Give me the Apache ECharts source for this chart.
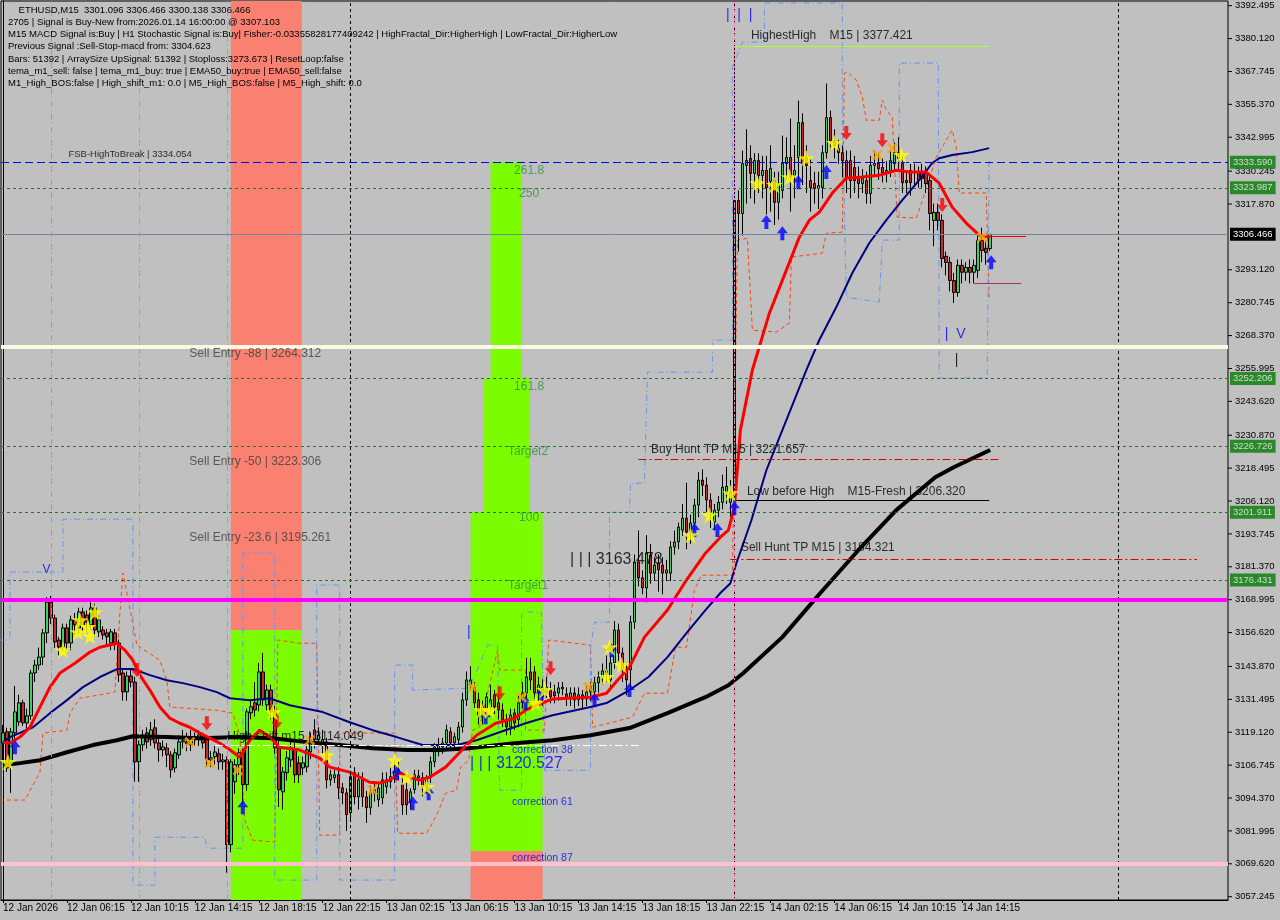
<!DOCTYPE html>
<html><head><meta charset="utf-8">
<script src="https://cdn.jsdelivr.net/npm/echarts@6/dist/echarts.min.js"></script>
<style>html,body{margin:0;padding:0;background:#c0c0c0;}#c{width:1280px;height:920px;}</style>
</head><body><div id="c"></div>
<script>
// ---------------- DATA ----------------
const tickLabels = ['12 Jan 2026','12 Jan 06:15','12 Jan 10:15','12 Jan 14:15','12 Jan 18:15','12 Jan 22:15','13 Jan 02:15','13 Jan 06:15','13 Jan 10:15','13 Jan 14:15','13 Jan 18:15','13 Jan 22:15','14 Jan 02:15','14 Jan 06:15','14 Jan 10:15','14 Jan 14:15'];
const priceTicks = [3392.495,3380.120,3367.745,3355.370,3342.995,3330.245,3317.870,3293.120,3280.745,3268.370,3255.995,3243.620,3230.870,3218.495,3206.120,3193.745,3181.370,3168.995,3156.620,3143.870,3131.495,3119.120,3106.745,3094.370,3081.995,3069.620,3057.245];
const header = [
  '    ETHUSD,M15  3301.096 3306.466 3300.138 3306.466',
  '2705 | Signal is Buy-New from:2026.01.14 16:00:00 @ 3307.103',
  'M15 MACD Signal is:Buy | H1 Stochastic Signal is:Buy| Fisher:-0.03355828177409242 | HighFractal_Dir:HigherHigh | LowFractal_Dir:HigherLow',
  'Previous Signal :Sell-Stop-macd from: 3304.623',
  'Bars: 51392 | ArraySize UpSignal: 51392 | Stoploss:3273.673 | ResetLoop:false',
  'tema_m1_sell: false | tema_m1_buy: true | EMA50_buy:true | EMA50_sell:false',
  'M1_High_BOS:false | High_shift_m1: 0.0 | M5_High_BOS:false | M5_High_shift: 0.0'
];

const candleOpen = [3115.1,3119.3,3108.0,3118.9,3123.0,3130.2,3122.6,3125.3,3141.4,3144.4,3147.4,3156.5,3168.1,3162.1,3153.8,3151.2,3158.4,3152.7,3161.4,3158.4,3164.4,3163.2,3159.5,3165.9,3156.9,3157.6,3156.5,3152.7,3156.5,3152.7,3141.4,3134.3,3140.3,3138.0,3108.0,3114.4,3118.9,3116.3,3120.8,3115.1,3112.5,3113.2,3110.6,3105.7,3110.6,3115.5,3115.5,3114.4,3117.0,3116.3,3117.4,3116.3,3108.7,3109.9,3111.0,3108.0,3108.7,3076.8,3100.5,3106.9,3111.4,3099.4,3126.4,3130.2,3129.4,3141.8,3129.4,3135.0,3126.8,3113.2,3096.7,3103.9,3108.7,3112.5,3107.6,3105.7,3106.1,3111.7,3120.0,3116.3,3114.4,3115.5,3101.2,3102.0,3103.1,3098.2,3096.3,3088.8,3103.9,3094.8,3101.2,3094.8,3090.7,3096.3,3093.7,3094.4,3098.6,3100.5,3102.4,3103.1,3099.3,3097.5,3093.0,3097.5,3102.0,3102.0,3098.6,3102.0,3108.0,3111.7,3113.6,3115.1,3119.3,3115.1,3116.3,3121.1,3131.3,3137.0,3135.8,3131.3,3128.7,3127.5,3128.7,3133.2,3130.2,3127.5,3123.8,3121.1,3126.4,3123.8,3130.2,3133.9,3141.8,3141.8,3133.9,3136.1,3134.3,3135.0,3134.3,3133.9,3135.4,3133.5,3132.0,3133.9,3131.3,3133.2,3131.6,3134.3,3134.3,3137.7,3139.9,3142.2,3138.8,3145.2,3157.6,3148.9,3142.6,3142.6,3160.6,3183.2,3177.2,3173.4,3185.8,3179.0,3182.8,3182.0,3179.0,3179.0,3188.8,3190.7,3195.2,3199.7,3194.4,3197.8,3204.6,3214.0,3212.1,3206.5,3198.2,3202.7,3205.6,3209.4,3205.6,3206.5,3319.2,3314.3,3332.4,3335.0,3329.4,3334.2,3328.6,3330.5,3326.5,3326.7,3318.5,3323.0,3333.1,3335.4,3328.6,3335.4,3348.5,3335.4,3326.7,3325.6,3323.7,3324.1,3337.2,3350.4,3341.8,3338.8,3337.2,3334.2,3334.2,3331.6,3327.9,3325.6,3326.7,3321.8,3332.4,3333.1,3331.6,3329.7,3330.5,3333.1,3337.2,3333.1,3326.7,3330.5,3329.7,3329.7,3329.7,3329.4,3326.7,3311.7,3314.7,3311.7,3298.2,3295.9,3289.1,3284.6,3294.8,3292.2,3294.0,3292.2,3292.9,3304.2,3301.2,3301.096];
const candleClose = [3118.9,3105.7,3119.3,3126.8,3130.2,3122.6,3125.3,3141.4,3144.4,3147.4,3156.5,3168.1,3162.1,3153.1,3151.2,3158.4,3152.7,3161.4,3159.5,3164.4,3159.5,3160.6,3165.9,3157.6,3161.4,3155.7,3155.0,3156.9,3152.7,3140.7,3134.3,3140.3,3138.0,3108.0,3114.4,3117.4,3115.5,3120.0,3115.1,3112.5,3113.6,3110.6,3105.0,3111.4,3115.5,3115.9,3114.8,3117.0,3116.3,3118.1,3115.1,3108.7,3109.5,3111.7,3108.0,3108.7,3076.8,3108.0,3106.9,3111.4,3099.4,3126.8,3128.7,3127.5,3141.8,3131.3,3135.0,3126.8,3113.2,3097.5,3104.2,3109.5,3113.2,3103.1,3103.1,3107.6,3112.5,3116.3,3116.3,3118.1,3116.3,3101.2,3103.1,3103.1,3098.2,3096.3,3088.1,3102.4,3094.8,3101.2,3094.8,3090.7,3096.3,3097.5,3098.2,3101.2,3101.2,3102.4,3104.2,3105.0,3091.8,3091.8,3096.7,3103.1,3102.7,3098.6,3101.2,3108.0,3113.6,3114.4,3115.1,3120.0,3115.1,3117.4,3121.1,3131.3,3138.8,3138.8,3130.2,3125.3,3125.6,3132.4,3131.3,3128.7,3127.5,3123.8,3121.1,3125.6,3122.6,3130.2,3133.9,3139.9,3138.8,3133.9,3136.9,3132.4,3136.1,3132.4,3132.8,3135.8,3136.1,3132.0,3133.9,3131.3,3133.2,3131.6,3134.3,3135.4,3137.7,3139.9,3142.2,3141.0,3145.2,3157.6,3148.9,3142.6,3138.8,3160.6,3183.2,3177.2,3173.4,3186.5,3179.0,3182.0,3180.2,3179.0,3180.2,3188.8,3190.7,3196.3,3199.7,3194.4,3197.8,3204.6,3214.0,3212.1,3206.5,3201.9,3202.7,3205.6,3211.3,3211.7,3209.4,3319.2,3314.3,3333.1,3334.2,3329.4,3334.2,3328.6,3330.5,3324.1,3331.2,3318.5,3325.6,3333.1,3335.4,3327.9,3330.5,3348.5,3333.1,3332.4,3324.1,3323.7,3324.8,3337.2,3350.4,3341.8,3339.9,3337.2,3334.2,3327.5,3326.7,3326.7,3325.6,3327.5,3321.8,3332.4,3333.1,3331.2,3329.7,3330.5,3334.2,3337.2,3335.0,3325.9,3325.9,3325.9,3329.9,3326.7,3327.5,3325.6,3314.3,3314.7,3311.7,3297.4,3295.9,3289.1,3284.6,3294.8,3292.2,3294.0,3292.2,3294.8,3304.2,3300.4,3299.7,3306.466];
const candleLow = [3108.7,3104.2,3096.3,3116.3,3121.5,3121.5,3119.3,3123.8,3138.0,3142.6,3144.4,3152.7,3159.9,3150.8,3148.0,3149.6,3150.0,3150.0,3156.0,3156.0,3157.0,3157.0,3157.5,3155.0,3155.0,3154.0,3152.0,3150.0,3150.0,3138.0,3131.0,3131.0,3136.0,3100.5,3100.5,3112.0,3113.0,3114.0,3113.0,3108.0,3110.0,3106.0,3102.0,3104.0,3109.0,3113.0,3112.0,3112.0,3114.0,3114.0,3113.0,3106.0,3106.0,3107.0,3105.0,3105.0,3066.3,3074.0,3096.0,3103.0,3092.0,3097.0,3124.0,3125.0,3127.0,3129.0,3127.0,3124.0,3111.0,3091.0,3090.0,3101.0,3106.0,3100.0,3100.0,3103.0,3104.0,3109.0,3113.0,3114.0,3111.0,3098.0,3099.0,3100.0,3094.0,3092.0,3082.0,3086.0,3092.0,3090.0,3091.0,3085.0,3088.0,3093.0,3091.0,3092.0,3096.0,3098.0,3100.0,3101.0,3088.0,3088.0,3090.0,3096.0,3099.0,3095.0,3096.0,3100.0,3106.0,3110.0,3111.0,3113.0,3113.0,3113.0,3114.0,3119.0,3129.0,3135.0,3128.0,3122.0,3122.0,3125.0,3127.0,3126.0,3124.0,3121.0,3118.0,3118.0,3120.0,3121.0,3128.0,3132.0,3135.0,3131.0,3131.0,3129.0,3132.0,3130.0,3130.0,3131.0,3133.0,3129.0,3129.0,3128.0,3129.0,3128.0,3129.0,3131.0,3131.0,3134.0,3137.0,3138.0,3135.0,3143.0,3146.0,3138.0,3133.0,3136.0,3158.0,3174.0,3171.0,3168.0,3175.0,3176.0,3172.0,3171.0,3176.0,3176.0,3186.0,3188.0,3193.0,3188.0,3190.0,3195.0,3200.0,3208.0,3202.0,3196.0,3195.0,3200.0,3203.0,3205.0,3200.0,3203.0,3300.0,3306.0,3318.0,3320.0,3318.0,3322.0,3320.0,3314.0,3315.0,3310.0,3312.0,3320.0,3327.0,3315.0,3320.0,3326.0,3325.0,3322.0,3315.0,3318.0,3316.0,3320.0,3335.0,3338.0,3335.0,3333.0,3328.0,3322.0,3320.0,3322.0,3320.0,3322.0,3318.0,3318.0,3328.0,3327.0,3326.0,3326.0,3328.0,3330.0,3330.0,3322.0,3322.0,3321.0,3325.0,3324.0,3324.0,3322.0,3308.0,3302.0,3308.0,3294.0,3291.0,3285.0,3280.6,3283.0,3288.0,3289.0,3288.0,3288.0,3290.0,3296.0,3295.0,3300.138];
const candleHigh = [3121.9,3120.8,3120.8,3136.5,3133.2,3131.3,3128.0,3142.6,3146.4,3151.0,3158.0,3170.0,3170.4,3163.3,3155.0,3160.0,3160.0,3163.0,3164.0,3166.0,3166.0,3165.0,3168.0,3167.5,3163.0,3159.0,3158.0,3158.0,3158.0,3154.0,3143.0,3142.0,3143.0,3140.0,3116.0,3120.0,3121.0,3123.0,3124.0,3117.0,3116.0,3115.0,3112.0,3113.0,3118.0,3120.0,3119.0,3120.0,3119.0,3120.0,3119.0,3118.0,3112.0,3114.0,3113.0,3111.0,3110.0,3109.0,3109.0,3113.0,3113.0,3128.0,3131.0,3138.0,3145.2,3149.0,3137.0,3137.0,3129.0,3116.0,3106.0,3112.0,3116.0,3115.0,3110.0,3110.0,3115.0,3119.0,3124.0,3121.0,3120.0,3117.0,3105.0,3105.0,3106.0,3100.0,3098.0,3104.0,3106.0,3104.0,3104.0,3097.0,3099.0,3100.0,3100.0,3104.0,3104.0,3106.0,3108.0,3108.0,3104.0,3100.0,3098.0,3105.0,3105.0,3104.0,3103.0,3110.0,3115.0,3117.0,3117.0,3122.0,3121.0,3119.0,3123.0,3134.0,3142.0,3144.0,3138.0,3134.0,3131.0,3134.0,3137.0,3135.0,3133.0,3130.0,3126.0,3128.0,3128.0,3133.0,3138.0,3147.1,3147.1,3144.0,3140.0,3139.0,3140.0,3138.0,3137.0,3138.0,3138.0,3136.0,3136.0,3136.0,3136.0,3135.0,3137.0,3138.0,3140.0,3142.0,3145.0,3148.0,3148.0,3161.0,3160.0,3151.0,3145.0,3163.0,3186.0,3195.0,3180.0,3193.3,3190.0,3185.0,3186.0,3185.0,3184.0,3191.0,3195.0,3198.0,3205.0,3213.0,3201.0,3207.0,3217.0,3218.0,3215.0,3209.0,3205.0,3208.0,3216.0,3219.0,3214.0,3377.4,3323.0,3338.0,3346.0,3340.0,3337.0,3337.0,3336.0,3336.0,3340.0,3330.0,3330.0,3343.6,3343.0,3350.0,3340.0,3356.8,3352.0,3340.0,3335.0,3330.0,3330.0,3340.0,3363.2,3353.0,3346.0,3342.0,3340.0,3338.0,3338.0,3336.0,3332.0,3331.0,3330.0,3336.0,3338.0,3337.0,3335.0,3334.0,3338.0,3341.0,3343.0,3336.0,3330.0,3333.0,3333.0,3332.0,3333.0,3332.0,3329.0,3318.0,3318.0,3314.0,3300.0,3298.0,3292.0,3297.0,3297.0,3296.0,3297.0,3297.0,3306.0,3309.0,3304.0,3306.466];

// moving averages: [bar index, price] read at sample points
const emaRed = [[0,3115.4],[1.75,3115.0],[4.25,3117.3],[6.75,3121.0],[9.25,3128.6],[11.75,3136.1],[14.25,3141.4],[18,3145.1],[21.75,3149.3],[24.25,3151.1],[28.5,3152.6],[30.5,3150.0],[32.5,3146.2],[34.25,3140.6],[36.75,3135.0],[39.25,3128.6],[41.75,3124.4],[44.25,3122.5],[46.75,3121.0],[49.25,3118.8],[51.75,3116.9],[54.25,3115.0],[56.25,3113.1],[59.25,3109.7],[61.75,3116.1],[64.25,3119.9],[66.75,3117.3],[69.25,3113.5],[74.25,3112.4],[79.25,3109.4],[81.75,3106.0],[86.75,3104.1],[91.75,3100.3],[94.25,3100.0],[96.75,3101.1],[99.25,3103.7],[101.75,3102.2],[104.25,3101.1],[106.75,3102.2],[110.75,3106.0],[115.5,3113.5],[118.5,3118.0],[123.25,3122.5],[128,3124.4],[130.75,3127.4],[134.75,3130.1],[137.5,3131.6],[147,3132.3],[151,3133.8],[153.75,3138.7],[156.75,3143.6],[160.5,3154.9],[166.25,3165.1],[171,3176.4],[175.75,3186.5],[179.5,3192.5],[181.5,3195.2],[183,3203.8],[184.5,3232.8],[187.5,3255.4],[191.75,3276.8],[196,3293.0],[199.25,3305.4],[201.75,3311.8],[204.25,3314.8],[207.5,3322.0],[211,3327.6],[215,3328.0],[219.25,3328.7],[223.5,3330.6],[226.75,3329.9],[231,3329.9],[234.25,3325.7],[237.5,3316.7],[241,3310.7],[244.25,3306.2],[247,3305.4]];
const maNavy = [[0,3115.4],[1.75,3117.3],[7.5,3121.0],[11.75,3126.3],[16,3131.2],[20,3136.1],[24.25,3139.9],[28.5,3142.9],[32.5,3142.9],[36.75,3140.6],[41,3138.7],[45,3137.6],[49.25,3136.1],[53.5,3134.2],[56.75,3131.9],[61.75,3131.2],[66.75,3131.9],[71.75,3129.3],[80,3126.7],[86.75,3122.9],[92.5,3119.9],[98.5,3117.3],[105,3114.3],[113.5,3114.3],[118.5,3116.1],[124.25,3119.1],[130.75,3122.5],[137.5,3125.5],[147,3128.6],[151,3130.1],[156.75,3135.0],[161.5,3139.9],[166.25,3147.4],[171,3156.4],[175.75,3165.1],[179.5,3171.5],[182,3175.2],[183.5,3182.7],[187.25,3198.9],[191,3217.7],[195,3232.8],[201,3255.4],[204.25,3266.7],[208.5,3279.1],[212.5,3291.9],[216.75,3303.2],[221,3311.8],[225,3319.3],[229.25,3326.9],[232.5,3333.3],[234.25,3335.1],[237.5,3336.3],[242.5,3337.4],[246.75,3338.9]];
const maBlack = [[0,3106.7],[4.25,3107.5],[9.25,3108.6],[16,3111.6],[22.5,3114.3],[28.5,3116.1],[32.5,3117.6],[41,3117.3],[49.25,3116.9],[59.25,3117.3],[67.5,3116.9],[76,3115.4],[84.25,3114.3],[92.5,3113.1],[101,3112.4],[109.25,3112.4],[116.5,3113.1],[128,3115.0],[137.5,3116.1],[147,3118.0],[156.75,3120.7],[166.25,3126.3],[175.75,3132.3],[181.5,3136.8],[185.25,3141.4],[195,3154.9],[204.5,3171.5],[214,3187.6],[223.5,3202.7],[233.25,3215.1],[238,3218.9],[247,3225.3]];
const bandOrange = [[-0.75,3093.6],[5.5,3093.6],[9.25,3104.1],[10,3118.8],[16,3119.9],[16.75,3126.3],[19.25,3131.9],[28,3134.2],[29.25,3163.9],[30,3179.0],[31,3171.5],[33.5,3151.9],[39.25,3146.2],[41,3138.7],[41.75,3128.6],[53.5,3127.4],[57.5,3126.3],[59.25,3118.0],[60.5,3086.0],[62.5,3078.5],[68,3077.8],[68.75,3153.8],[74.25,3152.6],[78.5,3152.6],[79.25,3080.4],[84.25,3080.4],[84.25,3118.8],[98,3118.8],[98.75,3081.1],[106,3081.1],[108.75,3088.7],[110.75,3096.2],[113.5,3097.3],[114.5,3106.0],[116.5,3108.6],[117.5,3119.9],[119.25,3121.0],[123.75,3150.0],[124.25,3142.5],[130.75,3142.5],[130.75,3119.9],[135.5,3119.9],[136.5,3153.8],[147,3151.9],[147.5,3121.0],[157.5,3124.8],[160.5,3133.8],[166.25,3133.8],[168.25,3151.1],[171,3151.1],[173,3172.6],[174.75,3178.2],[182.5,3178.2],[183.75,3304.3],[186.25,3305.0],[187.5,3270.4],[193.5,3269.7],[196.75,3273.1],[197.25,3297.9],[205,3299.4],[206,3306.9],[210,3307.3],[210.5,3367.1],[211.25,3367.5],[213.5,3364.5],[215,3358.1],[216,3349.4],[219.25,3349.4],[220,3357.0],[221,3353.2],[222.5,3350.6],[223,3333.3],[223.75,3312.9],[228.5,3312.6],[229.25,3315.6],[233.5,3335.5],[237.5,3345.7],[238.5,3339.3],[239.25,3322.0],[246,3322.0],[246.75,3282.8]];
const bandBlue = [[-0.75,3153.8],[1.75,3153.8],[1.75,3179.4],[15,3179.4],[15,3199.3],[32.5,3199.3],[32.5,3061.6],[38,3061.6],[38,3079.6],[50.5,3079.6],[51,3075.5],[60,3075.5],[60,3186.5],[68,3186.5],[68,3063.5],[78.5,3063.5],[78.5,3174.5],[84.25,3174.5],[84.25,3063.5],[98,3063.5],[98,3144.4],[102.5,3144.4],[102.5,3135.0],[116.75,3135.7],[121.25,3151.9],[123.75,3151.9],[124.25,3097.3],[129.75,3097.3],[129.75,3164.3],[134.75,3164.3],[135.5,3104.8],[147,3104.8],[147,3151.1],[148,3160.5],[151.75,3160.5],[151.75,3201.9],[156.75,3201.9],[157,3212.8],[160.5,3212.8],[161.25,3254.6],[177.5,3254.6],[177.5,3266.7],[182.5,3266.7],[182.5,3369.4],[185,3378.8],[190.5,3378.8],[190.5,3393.5],[210,3393.5],[210,3349.4],[211,3282.8],[219.25,3281.0],[220,3304.3],[224.25,3304.3],[224.25,3370.9],[234,3370.9],[234.25,3252.4],[246.25,3252.4],[246.75,3334.4]];

// signal markers [bar index, price]
const stars = [[1.25,3107.9],[15,3150.0],[19.25,3161.3],[21.25,3158.7],[23,3164.3],[18.75,3156.8],[21.75,3155.3],[67.5,3126.7],[81,3110.5],[98,3108.6],[101,3102.2],[106,3098.5],[119.75,3127.4],[121.75,3127.4],[133.25,3130.1],[135.5,3135.0],[151,3139.9],[151.75,3151.1],[154.75,3144.4],[172,3193.3],[176.75,3200.8],[182,3209.1],[188.75,3325.7],[193,3325.0],[196.75,3328.0],[201,3335.1],[208,3340.8],[224.75,3336.3]];
const upArrows = [[3,3113.5],[60,3090.9],[102.5,3092.4],[106.5,3096.2],[98.5,3103.7],[120.75,3124.8],[130.75,3130.1],[134.75,3133.8],[148,3131.2],[152.25,3150.0],[156.75,3135.0],[173,3195.2],[178.75,3195.2],[183,3203.4],[191,3311.1],[195,3306.9],[199,3326.1],[206,3329.9],[247.25,3296.0]];
const downArrows = [[33.5,3142.5],[51,3122.5],[68.5,3122.9],[124.25,3133.8],[137,3143.2],[211,3344.6],[220,3341.9],[235,3317.5]];
const crosses = [[46.75,3115.4],[51.75,3107.5],[58.75,3104.8],[76.75,3116.1],[92.5,3097.3],[117.5,3136.1],[129.75,3132.3],[146.5,3136.1],[218.75,3336.3],[222.5,3338.9],[245,3305.4]];

// levels
const fullLevels = [
  {v:3333.590, color:'#0000ff', type:[8,4], width:1, box:'green'},
  {v:3323.987, color:'#1f7a1f', type:[3,3], width:1, box:'green'},
  {v:3306.466, color:'#7088a0', type:'solid', width:1, box:'black'},
  {v:3264.312, color:'#fafae2', type:'solid', width:4, box:null},
  {v:3252.206, color:'#1f7a1f', type:[3,3], width:1, box:'green'},
  {v:3226.726, color:'#1f7a1f', type:[3,3], width:1, box:'green'},
  {v:3201.911, color:'#1f7a1f', type:[3,3], width:1, box:'green'},
  {v:3176.431, color:'#1f7a1f', type:[3,3], width:1, box:'green'},
  {v:3168.995, color:'#ff00ff', type:'solid', width:4, box:null},
  {v:3069.620, color:'#ffc0cb', type:'solid', width:4, box:null}
];
// segments: [fromBar, toBar, price, color, dash, width]
const segLevels = [
  [183, 246.75, 3377.421, '#adff2f', 'solid', 1],
  [159, 249.25, 3221.657, '#d00000', [8,3,2,3], 1],
  [183, 246.75, 3206.320, '#000000', 'solid', 1],
  [182, 298.75, 3184.321, '#d00000', [8,3,2,3], 1],
  [53, 160, 3114.049, '#ffffff', [8,3,2,3], 1],
  [244.25, 256, 3305.6, '#ff0000', 'solid', 1],
  [243, 254.75, 3288.1, '#a0306a', 'solid', 1]
];
// vertical lines: [bar, color, dash]
const vLines = [[12,'#ff69b4',[6,3,1,3]],[34,'#00e5ee',[6,3,1,3]],[56,'#00e5ee',[6,3,1,3]],[87,'#000000',[3,3]],[183,'#000000',[3,3]],[183,'#ff69b4',[2,2]],[279,'#000000',[3,3]]];
// zones: [fromBar, toBar, topPrice, bottomPrice, color]
const zones = [
  [57, 74.75, 3394.3, 3157.5, '#fa8072'],
  [57, 74.75, 3157.5, 3056.0, '#7cfc00'],
  [122, 129.75, 3333.59, 3252.206, '#7cfc00'],
  [120.25, 131.75, 3252.206, 3201.911, '#7cfc00'],
  [117, 135, 3201.911, 3074.4, '#7cfc00'],
  [117, 135, 3074.4, 3056.0, '#fa8072']
];
// text labels: [bar, price, text, color, size]
const texts = [
  [16.25, 3336.7, 'FSB-HighToBreak | 3334.054', '#000000', 9.5],
  [46.5, 3261.4, 'Sell Entry -88 | 3264.312', '#3c3c3c', 12],
  [46.5, 3220.8, 'Sell Entry -50 | 3223.306', '#3c3c3c', 12],
  [46.5, 3192.5, 'Sell Entry -23.6 | 3195.261', '#3c3c3c', 12],
  [127.75, 3330.6, '261.8', '#2f8f3f', 12],
  [129, 3321.6, '250', '#2f8f3f', 12],
  [127.75, 3249.3, '161.8', '#2f8f3f', 12],
  [126.25, 3224.5, 'Target2', '#2f8f3f', 12],
  [129, 3199.7, '100', '#2f8f3f', 12],
  [126.25, 3174.1, 'Target1', '#2f8f3f', 12],
  [127.25, 3112.4, 'correction 38', '#0000ff', 10.5],
  [127.25, 3092.8, 'correction 61', '#0000ff', 10.5],
  [127.25, 3071.7, 'correction 87', '#0000ff', 10.5],
  [141.75, 3184.2, '| | | 3163.478', '#000000', 16],
  [116.75, 3107.5, '| | | 3120.527', '#0000ff', 16],
  [56, 3117.6, 'High-shift m15 | 3114.049', '#000000', 12],
  [187, 3381.1, 'HighestHigh    M15 | 3377.421', '#000000', 12],
  [162, 3225.3, 'Buy Hunt TP M15 | 3221.657', '#000000', 12],
  [186, 3209.8, 'Low before High    M15-Fresh | 3206.320', '#000000', 12],
  [184.5, 3188.4, 'Sell Hunt TP M15 | 3184.321', '#000000', 12],
  [180.75, 3389.0, '|  |  |', '#0000ff', 14],
  [235.5, 3268.9, '|  V', '#0000ff', 14],
  [238, 3259.1, '|', '#000000', 14],
  [9.75, 3180.2, 'V', '#0000ff', 12],
  [116, 3156.8, '|', '#0000ff', 14]
];

// ---------------- CHART ----------------
const N = 307;
const cats = Array.from({length: N}, (_, i) => String(i));
const candleData = candleOpen.map((o, i) => [o, candleClose[i], candleLow[i], candleHigh[i]]);
const FONT = 'Liberation Sans';
const STAR = 'path://M50,0 L61,35 L98,35 L68,57 L79,91 L50,70 L21,91 L32,57 L2,35 L39,35 Z';
const UP = 'path://M50,0 L100,50 L68,50 L68,100 L32,100 L32,50 L0,50 Z';
const DOWN = 'path://M32,0 L68,0 L68,50 L100,50 L50,100 L0,50 L32,50 Z';
const CROSS = 'path://M0,18 L18,0 L50,32 L82,0 L100,18 L68,50 L100,82 L82,100 L50,68 L18,100 L0,82 L32,50 Z';

const markLineFull = fullLevels.map(l => ({
  yAxis: l.v,
  lineStyle: {color: l.color, type: l.type, width: l.width},
  label: l.box ? {
    show: true, position: 'end', distance: 2, formatter: l.v.toFixed(3),
    backgroundColor: l.box === 'green' ? '#2a8a2a' : '#000000',
    color: l.box === 'green' ? '#d8d8d8' : '#ffffff',
    fontSize: 9.5, fontFamily: FONT, padding: [2, 3, 1, 3]
  } : {show: false}
}));
const markLineSeg = segLevels.map(s => [
  {coord: [s[0], s[2]], lineStyle: {color: s[3], type: s[4], width: s[5]}, label: {show: false}},
  {coord: [s[1], s[2]]}
]);
const markLineV = vLines.map(v => ({xAxis: v[0], lineStyle: {color: v[1], type: v[2], width: 1}, label: {show: false}}));

const option = {
  animation: false,
  backgroundColor: '#c0c0c0',
  textStyle: {fontFamily: FONT},
  title: {
    text: header.join('\n'), left: 8, top: 4, padding: 0,
    textStyle: {fontSize: 9.5, fontWeight: 'normal', color: '#000', lineHeight: 12.2, fontFamily: FONT}
  },
  grid: {left: 1, right: 52, top: 1, bottom: 20, show: true, borderColor: '#000', borderWidth: 1, backgroundColor: '#c0c0c0'},
  xAxis: [{
    type: 'category', data: cats, boundaryGap: true,
    axisLine: {lineStyle: {color: '#000'}},
    axisTick: {show: true, length: 3, alignWithLabel: true, interval: (i) => i % 16 === 0 && i / 16 < tickLabels.length, lineStyle: {color: '#000'}},
    axisLabel: {show: true, interval: (i) => i % 16 === 0 && i / 16 < tickLabels.length, formatter: (v, i) => tickLabels[Math.round(Number(v) / 16)] || '', align: 'left', margin: 3, color: '#000', fontSize: 10, fontFamily: FONT},
    splitLine: {show: false}
  }, {
    type: 'value', min: -0.5, max: 306.5, show: false
  }],
  yAxis: [{
    type: 'value', position: 'right', min: 3056.0, max: 3394.26, scale: true,
    axisLine: {show: true, lineStyle: {color: '#000'}},
    axisTick: {show: false},
    axisLabel: {show: true, customValues: priceTicks, formatter: (v) => Number(v).toFixed(3), margin: 7, color: '#000', fontSize: 9.5, fontFamily: FONT},
    splitLine: {show: false}
  }],
  series: [
    {
      name: 'zones', type: 'line', xAxisIndex: 1, yAxisIndex: 0, data: [[-5, 3000]], symbol: 'none', lineStyle: {width: 0}, silent: true, z: 1,
      markArea: {silent: true, data: zones.map(z => [{xAxis: z[0], yAxis: z[2], itemStyle: {color: z[4], opacity: 1}}, {xAxis: z[1], yAxis: z[3]}])}
    },
    {
      name: 'levels', type: 'line', xAxisIndex: 1, yAxisIndex: 0, data: [[-5, 3000]], symbol: 'none', lineStyle: {width: 0}, silent: true, z: 2,
      markLine: {silent: true, symbol: ['none', 'none'], precision: 3, label: {show: false}, data: markLineV.concat(markLineSeg)}
    },
    {
      name: 'levelsFull', type: 'line', xAxisIndex: 1, yAxisIndex: 0, data: [[-5, 3000]], symbol: 'none', lineStyle: {width: 0}, silent: true, z: 2,
      markLine: {silent: true, symbol: ['none', 'none'], precision: 3, label: {show: false}, data: markLineFull}
    },
    {
      name: 'priceTicks', type: 'custom', xAxisIndex: 1, yAxisIndex: 0, silent: true, clip: false, z: 2,
      data: priceTicks.map(p => [306.5, p]),
      renderItem: (params, api) => {
        const pt = api.coord([api.value(0), api.value(1)]);
        return {type: 'line', shape: {x1: pt[0], y1: pt[1], x2: pt[0] + 4, y2: pt[1]}, style: {stroke: '#000', lineWidth: 1}};
      }
    },
    {
      name: 'ETHUSD', type: 'candlestick', xAxisIndex: 0, yAxisIndex: 0, data: candleData, barWidth: 3, z: 3,
      itemStyle: {color: '#3fcf5f', color0: '#c82a2a', borderColor: '#000', borderColor0: '#000', borderWidth: 1}
    },
    {name: 'bandOrange', type: 'line', xAxisIndex: 1, data: bandOrange, symbol: 'none', z: 3, lineStyle: {color: '#ff4500', width: 1, type: [4, 3]}},
    {name: 'bandBlue', type: 'line', xAxisIndex: 1, data: bandBlue, symbol: 'none', z: 3, lineStyle: {color: '#6495ed', width: 1, type: [6, 3, 1, 3]}},
    {name: 'MA black', type: 'line', xAxisIndex: 1, data: maBlack, symbol: 'none', z: 4, lineStyle: {color: '#000', width: 4}},
    {name: 'MA navy', type: 'line', xAxisIndex: 1, data: maNavy, symbol: 'none', z: 4, lineStyle: {color: '#000080', width: 2}},
    {name: 'EMA red', type: 'line', xAxisIndex: 1, data: emaRed, symbol: 'none', z: 4, lineStyle: {color: '#ff0000', width: 3}},
    {name: 'up', type: 'scatter', xAxisIndex: 1, data: upArrows, symbol: UP, symbolSize: [11, 14], z: 5, itemStyle: {color: '#0000ff'}},
    {name: 'down', type: 'scatter', xAxisIndex: 1, data: downArrows, symbol: DOWN, symbolSize: [11, 14], z: 5, itemStyle: {color: '#ff0000'}},
    {name: 'cross', type: 'scatter', xAxisIndex: 1, data: crosses, symbol: CROSS, symbolSize: 11, z: 5, itemStyle: {color: '#ffa500'}},
    {name: 'stars', type: 'scatter', xAxisIndex: 1, data: stars, symbol: STAR, symbolSize: 17, z: 5, itemStyle: {color: '#ffff00'}},
    {
      name: 'texts', type: 'scatter', xAxisIndex: 1, symbolSize: 1, z: 6, silent: true, itemStyle: {color: 'transparent'},
      data: texts.map(t => ({value: [t[0], t[1]], label: {show: true, position: 'right', distance: 0, formatter: t[2], color: t[3], fontSize: t[4], fontFamily: FONT}}))
    }
  ]
};
const chart = echarts.init(document.getElementById('c'), null, {width: 1280, height: 920});
chart.setOption(option);
</script>
</body></html>
